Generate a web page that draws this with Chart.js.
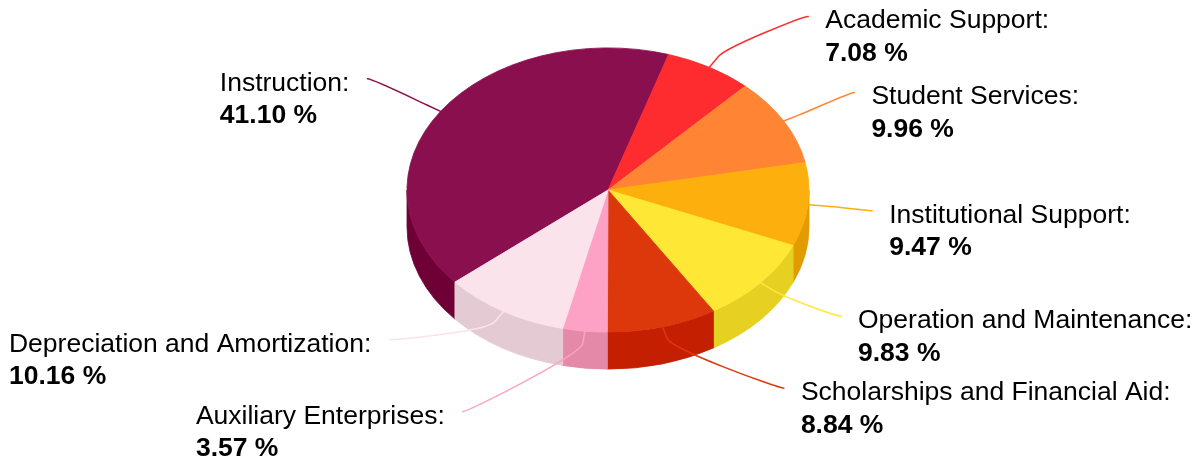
<!DOCTYPE html>
<html>
<head>
<meta charset="utf-8">
<script src="https://cdn.jsdelivr.net/npm/chart.js@4.4.1/dist/chart.umd.min.js"></script>
<style>
  html, body { margin: 0; padding: 0; background: #ffffff; }
  #wrap { width: 1200px; height: 462px; position: relative; }
</style>
</head>
<body>
<div id="wrap"><canvas id="c"></canvas></div>
<script>
// ---- data ----
const categories = [
  'Instruction',
  'Academic Support',
  'Student Services',
  'Institutional Support',
  'Operation and Maintenance',
  'Scholarships and Financial Aid',
  'Auxiliary Enterprises',
  'Depreciation and Amortization'
];
const shares = [41.10, 7.08, 9.96, 9.47, 9.83, 8.84, 3.57, 10.16];
const topColors  = ['#8a0f4f', '#ff2c2f', '#ff8534', '#fdb00d', '#ffe835', '#dc380b', '#fda2c5', '#fbe3eb'];
const sideColors = ['#6e0036', '#e01a1d', '#e66c1f', '#e29b00', '#e6d123', '#c41f00', '#e589a8', '#e3cad3'];

// ---- look ----
const TILT = 0.707;          // vertical squash of the top face (45° view)
const DEPTH = 37;            // thickness of the pie
const LABEL_RX = 265;        // label anchor circle
const LABEL_RY = 201;        // projected label distance
const LABEL_GAP = 72;        // minimum vertical spacing between labels
const BREAK_OFFSET = 17;     // connector break distance outside the pie
const FONT = '"Liberation Sans", Arial, Helvetica, sans-serif';
const FONT_SIZE = 26.5;
const LINE_GAP = 32.5;

const pie3d = {
  id: 'pie3d',
  beforeDatasetsDraw(chart) {
    const ctx = chart.ctx;
    const arcs = chart.getDatasetMeta(0).data;
    const cx = arcs[0].x, cy = arcs[0].y, r = arcs[0].outerRadius, ry = r * TILT;
    const TAU = Math.PI * 2;
    arcs.forEach((arc, i) => {
      let s = arc.startAngle, e = arc.endAngle;
      const n = Math.floor(s / TAU);
      s -= n * TAU; e -= n * TAU;
      [[0, Math.PI], [TAU, TAU + Math.PI]].forEach(([lo, hi]) => {
        const a = Math.max(s, lo), b = Math.min(e, hi);
        if (b <= a) return;
        ctx.beginPath();
        ctx.ellipse(cx, cy, r, ry, 0, a, b, false);
        ctx.ellipse(cx, cy + DEPTH, r, ry, 0, b, a, true);
        ctx.closePath();
        ctx.fillStyle = sideColors[i];
        ctx.strokeStyle = sideColors[i];
        ctx.lineWidth = 0.8;
        ctx.fill();
        ctx.stroke();
      });
    });
    ctx.save();
    ctx.translate(cx, cy);
    ctx.scale(1, TILT);
    ctx.translate(-cx, -cy);
  },
  afterDatasetsDraw(chart) {
    const ctx = chart.ctx;
    ctx.restore();
    const arcs = chart.getDatasetMeta(0).data;
    const cx = arcs[0].x, cy = arcs[0].y, r = arcs[0].outerRadius, ry = r * TILT;

    const items = arcs.map((arc, i) => {
      const m = (arc.startAngle + arc.endAngle) / 2;
      return { i, m, right: Math.cos(m) >= 0, y: cy + Math.sin(m) * LABEL_RY };
    });

    function spread(list) {
      list.sort((a, b) => a.y - b.y);
      let clusters = list.map(it => ({ items: [it], top: it.y }));
      let merged = true;
      while (merged) {
        merged = false;
        for (let k = 0; k < clusters.length - 1; k++) {
          const A = clusters[k], B = clusters[k + 1];
          const aEnd = A.top + (A.items.length - 1) * LABEL_GAP;
          if (B.top - aEnd < LABEL_GAP) {
            const all = A.items.concat(B.items);
            const mean = all.reduce((s, it) => s + it.y, 0) / all.length;
            clusters.splice(k, 2, { items: all, top: mean - (all.length - 1) * LABEL_GAP / 2 });
            merged = true;
            break;
          }
        }
      }
      clusters.forEach(c => c.items.forEach((it, j) => { it.fy = c.top + j * LABEL_GAP; }));
    }
    spread(items.filter(it => it.right));
    spread(items.filter(it => !it.right));

    items.forEach(it => {
      const i = it.i, m = it.m;
      const dy = it.fy - cy;
      const dx = Math.sqrt(Math.max(0, LABEL_RX * LABEL_RX - dy * dy));
      const lx = it.right ? cx + dx : cx - dx;
      const ly = it.fy;
      const tx = cx + r * Math.cos(m), ty = cy + ry * Math.sin(m);
      const bx = cx + (r + BREAK_OFFSET) * Math.cos(m);
      const by = cy + (r + BREAK_OFFSET) * TILT * Math.sin(m);

      ctx.save();
      ctx.beginPath();
      ctx.moveTo(lx, ly);
      ctx.bezierCurveTo(lx + (it.right ? -5 : 5), ly, 2 * bx - tx, 2 * by - ty, bx, by);
      ctx.lineTo(tx, ty);
      ctx.strokeStyle = topColors[i];
      ctx.lineWidth = 1.5;
      ctx.lineCap = 'round';
      ctx.lineJoin = 'round';
      ctx.stroke();

      const line1 = categories[i] + ':';
      const line2 = shares[i].toFixed(2) + ' %';
      ctx.fillStyle = '#000000';
      ctx.textBaseline = 'alphabetic';
      ctx.textAlign = 'left';
      ctx.font = `normal ${FONT_SIZE}px ${FONT}`;
      const w1 = ctx.measureText(line1).width;
      ctx.font = `bold ${FONT_SIZE}px ${FONT}`;
      const w2 = ctx.measureText(line2).width;
      const w = Math.max(w1, w2);
      const left = it.right ? lx + 17 : lx - 18 - w;
      ctx.font = `normal ${FONT_SIZE}px ${FONT}`;
      ctx.fillText(line1, left, ly + 12);
      ctx.font = `bold ${FONT_SIZE}px ${FONT}`;
      ctx.fillText(line2, left, ly + 12 + LINE_GAP);
      ctx.restore();
    });
  }
};

new Chart(document.getElementById('c'), {
  type: 'pie',
  data: {
    labels: categories,
    datasets: [{
      data: shares,
      backgroundColor: topColors,
      borderColor: topColors,
      borderWidth: 1,
      clip: false
    }]
  },
  options: {
    responsive: true,
    maintainAspectRatio: false,
    animation: false,
    events: [],
    rotation: -130.4,
    radius: 201,
    layout: { padding: { left: 408, right: 392, top: 0, bottom: 82 } },
    plugins: { legend: { display: false }, tooltip: { enabled: false }, title: { display: false } }
  },
  plugins: [pie3d]
});
</script>
</body>
</html>
